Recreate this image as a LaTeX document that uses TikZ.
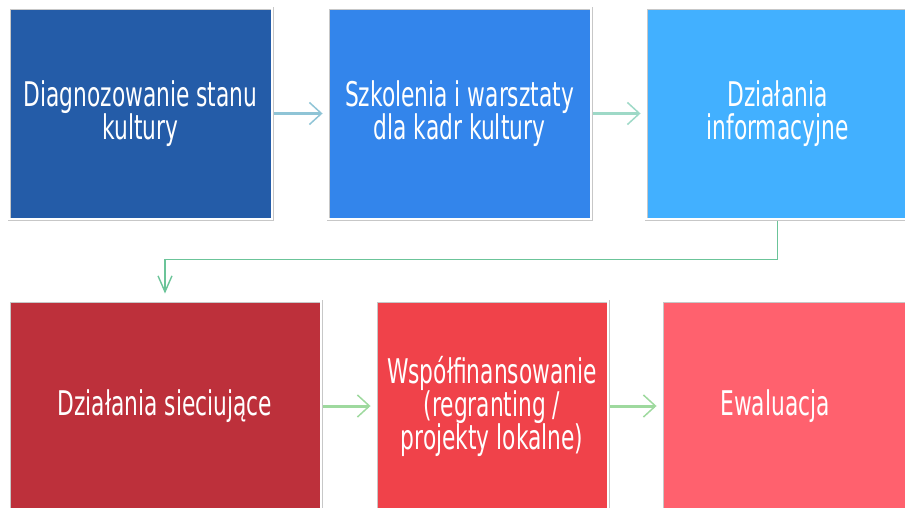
\documentclass[tikz,border=0pt]{standalone}
\usepackage{fontspec}
\newfontfamily\stagefont[FakeStretch=0.64]{DejaVu Sans}
\usepackage{tikz}
\usetikzlibrary{arrows.meta}
\definecolor{darkcobalt}{rgb}{0.14, 0.36, 0.66}
\definecolor{royalsky}{rgb}{0.20, 0.52, 0.92}
\definecolor{brightsky}{rgb}{0.26, 0.69, 1.0}
\definecolor{bricksoft}{rgb}{0.74, 0.19, 0.23}
\definecolor{coralred}{rgb}{0.94, 0.26, 0.29}
\definecolor{salmonpink}{rgb}{1.0, 0.38, 0.43}
\definecolor{framegray}{rgb}{0.78, 0.78, 0.78}
\definecolor{mistblue}{rgb}{0.56, 0.77, 0.84}
\definecolor{mistteal}{rgb}{0.62, 0.85, 0.78}
\definecolor{leafgreen}{rgb}{0.42, 0.77, 0.60}
\definecolor{palegreen}{rgb}{0.62, 0.85, 0.62}
\tikzset{
  stage/.style={draw=framegray, double=white, double distance=1.2pt, line width=0.9pt,
    text=white, align=center, inner sep=0pt,
    font=\stagefont\fontsize{34}{33}\selectfont},
  flow/.style={line width=3pt, shorten <=1.5pt, shorten >=5pt,
    -{Straight Barb[length=12pt,width=22pt,line width=1.5pt]}},
  link/.style={line width=1.3pt, draw=leafgreen, shorten <=1.5pt, shorten >=7pt,
    -{Straight Barb[length=16pt,width=14pt,line width=1.4pt]}},
}

\begin{document}
\begin{tikzpicture}[x=1pt,y=-1pt]
  \useasboundingbox (0,0) rectangle (905,507);
  \clip (0,0) rectangle (905,507);

  % top row
  \node[stage, fill=darkcobalt, minimum width=263pt, minimum height=211pt] (diag) at (140.5,113.5) {Diagnozowanie stanu\\kultury};
  \node[stage, fill=royalsky, minimum width=263pt, minimum height=211pt] (train) at (459.5,113.5) {Szkolenia i warsztaty\\dla kadr kultury};
  \node[stage, fill=brightsky, minimum width=263pt, minimum height=211pt] (info) at (777.5,113.5) {Działania\\informacyjne};

  % bottom row
  \node[stage, fill=bricksoft, minimum width=312pt, minimum height=210pt] (net) at (165,406) {Działania sieciujące};
  \node[stage, fill=coralred, minimum width=232pt, minimum height=210pt] (cofund) at (492,406) {Współfinansowanie\\(regranting /\\projekty lokalne)};
  \node[stage, fill=salmonpink, minimum width=248pt, minimum height=210pt] (eval) at (786,406) {Ewaluacja\hspace*{22pt}};

  \draw[flow, draw=mistblue] (diag.east) -- (train.west);
  \draw[flow, draw=mistteal] (train.east) -- (info.west);
  \draw[link] (info.south) -- ++(0,40) -| (net.north);
  \draw[flow, draw=palegreen] (net.east) -- (cofund.west);
  \draw[flow, draw=palegreen] (cofund.east) -- (eval.west);
  % \draw[flow, draw=palegreen] (eval.east) -- ++(40,0);
\end{tikzpicture}
\end{document}
